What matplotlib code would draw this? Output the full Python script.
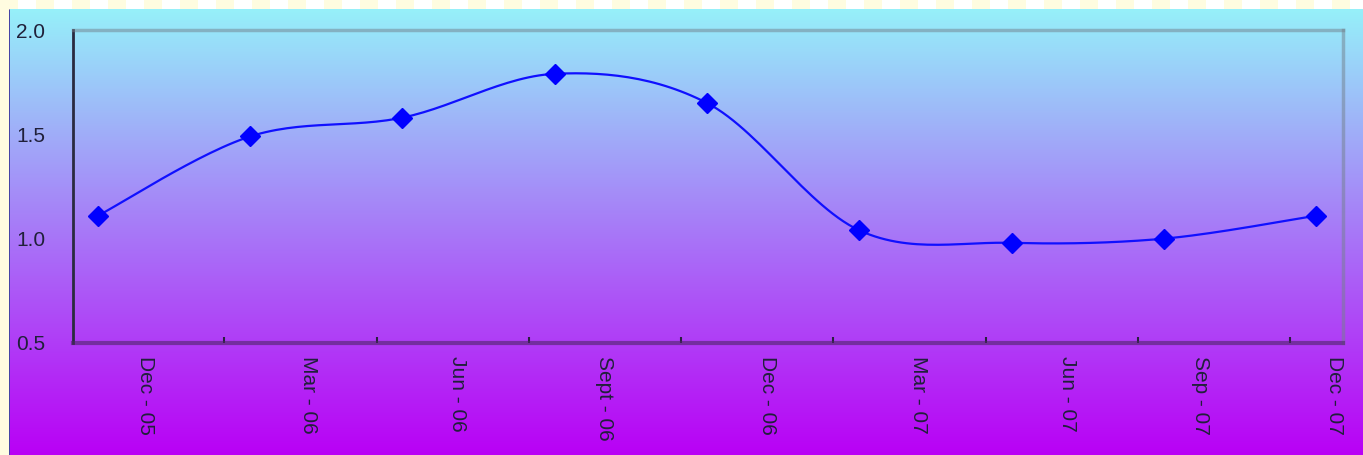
import matplotlib.pyplot as plt
import numpy as np

plt.rcParams['font.family'] = ['Liberation Sans', 'DejaVu Sans']

quarters = ["Dec - 05", "Mar - 06", "Jun - 06", "Sept - 06", "Dec - 06",
            "Mar - 07", "Jun - 07", "Sep - 07", "Dec - 07"]
values = [1.11, 1.49, 1.58, 1.79, 1.65, 1.04, 0.98, 1.00, 1.11]
yticks = [0.5, 1.0, 1.5, 2.0]
ytick_labels = ["0.5", "1.0", "1.5", "2.0"]

# where the rotated quarter names sit along the axis
label_pos = [0.31, 1.38, 2.36, 3.33, 4.40, 5.39, 6.37, 7.24, 8.12]


def smooth(x, y, n=30):
    # bezier smoothing through every point, like a spreadsheet "smoothed line"
    px = np.concatenate([[x[0]], x, [x[-1]]])
    py = np.concatenate([[y[0]], y, [y[-1]]])
    xs, ys = [], []
    t = np.linspace(0, 1, n)
    for i in range(1, len(px) - 2):
        p0 = np.array([px[i], py[i]])
        p3 = np.array([px[i + 1], py[i + 1]])
        p1 = p0 + (p3 - np.array([px[i - 1], py[i - 1]])) / 6
        p2 = p3 - (np.array([px[i + 2], py[i + 2]]) - p0) / 6
        b = ((1 - t) ** 3)[:, None] * p0 + (3 * (1 - t) ** 2 * t)[:, None] * p1 \
            + (3 * (1 - t) * t ** 2)[:, None] * p2 + (t ** 3)[:, None] * p3
        xs.append(b[:, 0])
        ys.append(b[:, 1])
    return np.concatenate(xs), np.concatenate(ys)


W, H = 1363, 455
fig = plt.figure(figsize=(W / 100, H / 100), dpi=100)

# striped frame behind the chart
bg = fig.add_axes([0, 0, 1, 1])
bg.set_axis_off()
stripe = np.zeros((H, W, 3))
stripe[:] = [1.0, 0.99, 0.88]
cols = (np.arange(W) // 18) % 2 == 1
stripe[:10, cols] = [1.0, 1.0, 1.0]
bg.imshow(stripe, aspect="auto", extent=[0, W, H, 0])
bg.set_xlim(0, W)
bg.set_ylim(H, 0)

# gradient chart area, cyan at the top fading to violet
area = fig.add_axes([10 / W, 0, (W - 10) / W, (H - 9) / H])
area.set_axis_off()
top = np.array([150, 240, 250]) / 255
bottom = np.array([185, 0, 245]) / 255
f = np.linspace(0, 1, 300)[:, None]
grad = (1 - f) * top + f * bottom
area.imshow(grad[:, None, :], aspect="auto", extent=[0, 1, 0, 1])
area.set_xlim(0, 1)
area.set_ylim(0, 1)
bg.plot([10, 10, W], [H, 9.5, 9.5], color="#20209a", lw=1.2)

ax = fig.add_axes([73 / W, (H - 343) / H, (1343 - 73) / W, (343 - 30) / H])
ax.patch.set_alpha(0)

x = np.arange(len(values))
sx, sy = smooth(x, np.array(values))
ax.plot(sx, sy, color="#1010ff", lw=1.6, zorder=3)
ax.plot(x, values, "D", color="#0000ff", ms=10, zorder=4)

ax.set_xlim(-0.164, 8.177)
ax.set_ylim(0.5, 2.0)

ax.set_yticks(yticks)
ax.set_yticklabels(ytick_labels)
ax.tick_params(axis="y", length=0, pad=20, labelsize=15, labelcolor="#20203a")

ax.set_xticks(np.arange(8) + 0.83)
ax.set_xticklabels([])
ax.set_xticks(label_pos, minor=True)
ax.set_xticklabels(quarters, minor=True, rotation=270, va="top", ha="center")
ax.tick_params(axis="x", which="major", direction="in", length=4, width=1.5,
               color="#2a2040")
ax.tick_params(axis="x", which="minor", length=0, pad=9, labelsize=15,
               labelcolor="#20203a")

for s in ["top", "right"]:
    ax.spines[s].set_color((0.45, 0.5, 0.55, 0.5))
    ax.spines[s].set_linewidth(2.5)
ax.spines["left"].set_color("#2a2a40")
ax.spines["left"].set_linewidth(2)
ax.spines["bottom"].set_color((0.3, 0.15, 0.4, 0.6))
ax.spines["bottom"].set_linewidth(3)

plt.savefig("out.png", dpi=100)
